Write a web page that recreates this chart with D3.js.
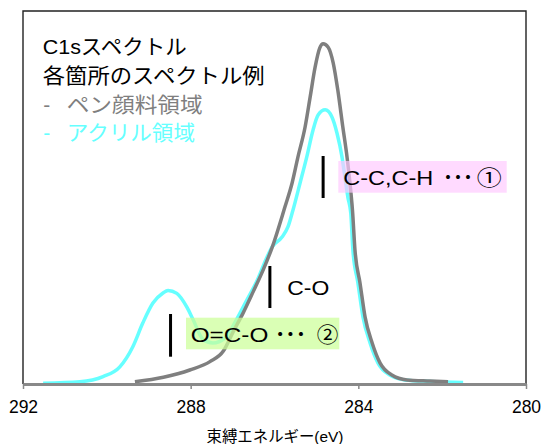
<!DOCTYPE html>
<html>
<head>
<meta charset="utf-8">
<script src="https://cdn.jsdelivr.net/npm/d3@7"></script>
<style>
  html, body { margin: 0; padding: 0; background: #fff; }
  svg { display: block; }
  text { font-family: "Liberation Sans", Arial, "Noto Sans CJK JP", sans-serif; }
</style>
</head>
<body>
<script>
// ---- data ----
const xTicks = [292, 288, 284, 280];
const titleLines = ["C1sスペクトル", "各箇所のスペクトル例"];
const seriesNames = ["ペン顔料領域", "アクリル領域"];
const axisTitle = "束縛エネルギー(eV)";

// pen pigment region (gray)
const penEnergy = [289.33, 288.65, 288.02, 287.54, 287.22, 286.99, 286.75, 286.51, 286.27, 286.06,
  285.75, 285.58, 285.44, 285.27, 285.15, 285.03, 284.92, 284.84, 284.72, 284.60, 284.49, 284.37,
  284.27, 284.20, 284.14, 284.08, 283.96, 283.84, 283.67, 283.48, 283.20, 282.84, 282.29, 281.86];
const penIntensity = [0.6, 1.8, 3.75, 6.0, 8.85, 13.9, 19.0, 24.7, 30.6, 36.5,
  47.5, 53.9, 60.9, 68.9, 76.9, 85.0, 90.1, 91.2, 90.3, 86.1, 78.8, 68.9,
  60.9, 53.9, 46.6, 35.9, 27.1, 18.0, 11.0, 5.6, 2.4, 1.1, 0.8, 0.6];

// acrylic region (cyan)
const acrEnergy = [291.52, 290.64, 290.09, 289.69, 289.38, 289.14, 288.90, 288.66, 288.54, 288.33,
  288.09, 287.94, 287.71, 287.47, 287.18, 286.94, 286.66, 286.42, 286.18, 286.06, 285.82, 285.68,
  285.56, 285.39, 285.23, 285.08, 284.96, 284.79, 284.63, 284.51, 284.39, 284.32, 284.25, 284.18,
  284.13, 284.01, 283.89, 283.72, 283.53, 283.25, 282.89, 282.29, 281.50];
const acrIntensity = [0.2, 0.6, 2.0, 4.6, 10.0, 16.4, 21.7, 24.4, 25.1, 24.3,
  20.6, 17.2, 12.0, 11.0, 12.3, 16.6, 22.5, 27.6, 34.0, 36.7, 39.4, 42.1,
  46.6, 53.9, 60.9, 68.1, 72.1, 73.5, 71.6, 67.3, 60.9, 55.5, 50.1, 45.8,
  35.9, 27.1, 18.0, 11.0, 5.6, 2.4, 1.1, 0.7, 0.4];

// peak assignments
const peakLabels = ["C-C,C-H", "C-O", "O=C-O"];
const peakEnergies = [284.84, 286.11, 288.48];

// ---- drawing ----
const W = 542, H = 444;
const svg = d3.select("body").append("svg").attr("width", W).attr("height", H);

const x = d3.scaleLinear().domain([292, 280]).range([23, 526]);
const y = d3.scaleLinear().domain([0, 100]).range([384, 11]);

const gray = "#7f7f7f", cyan = "#66ffff";

// frame (left, top, right)
svg.append("path")
  .attr("d", `M${x(292)},${y(0)} V${y(100)} H${x(280)} V${y(0)}`)
  .attr("fill", "none").attr("stroke", "#222").attr("stroke-width", 1.4);

const line = d3.line().x(d => x(d[0])).y(d => y(d[1])).curve(d3.curveMonotoneX);
const acr = acrEnergy.map((e, i) => [e, acrIntensity[i]]);
const pen = penEnergy.map((e, i) => [e, penIntensity[i]]);

svg.append("path").datum(acr).attr("d", line)
  .attr("fill", "none").attr("stroke", cyan).attr("stroke-width", 3.5).attr("stroke-linejoin", "round");
svg.append("path").datum(pen).attr("d", line)
  .attr("fill", "none").attr("stroke", gray).attr("stroke-width", 3.5).attr("stroke-linejoin", "round");

// axis
const ax = svg.append("g").attr("transform", `translate(0,${y(0)})`)
  .call(d3.axisBottom(x).tickValues(xTicks).tickFormat(d3.format("d"))
    .tickSize(5).tickSizeOuter(0).tickPadding(12));
ax.select(".domain").attr("stroke", "#898989").attr("stroke-width", 3);
ax.selectAll(".tick line").attr("stroke", "#898989").attr("stroke-width", 1.5);
ax.selectAll(".tick text").attr("font-size", 17.5).attr("fill", "#000")
  .style("font-family", '"Liberation Sans", Arial, sans-serif');

svg.append("text").attr("x", 275).attr("y", 442).attr("text-anchor", "middle")
  .attr("font-size", 15.5).attr("fill", "#000")
  .attr("textLength", 137).attr("lengthAdjust", "spacingAndGlyphs").text(axisTitle);

// title / legend text
const fs = 21;
svg.append("text").attr("x", 42.7).attr("y", 54.3).attr("font-size", fs)
  .attr("textLength", 144).attr("lengthAdjust", "spacingAndGlyphs").text(titleLines[0]);
svg.append("text").attr("x", 42.7).attr("y", 83).attr("font-size", fs)
  .attr("textLength", 222).attr("lengthAdjust", "spacingAndGlyphs").text(titleLines[1]);
const legCols = [gray, cyan], legY = [111.5, 140], legW = [136, 128.3];
seriesNames.forEach((n, i) => {
  svg.append("text").attr("x", 43.3).attr("y", legY[i]).attr("font-size", fs)
    .attr("fill", legCols[i]).text("-");
  svg.append("text").attr("x", 66.7).attr("y", legY[i]).attr("font-size", fs)
    .attr("fill", legCols[i]).attr("textLength", legW[i]).attr("lengthAdjust", "spacingAndGlyphs").text(n);
});

// annotations
function marker(e, y0, y1) {
  svg.append("line").attr("x1", x(e)).attr("x2", x(e)).attr("y1", y0).attr("y2", y1)
    .attr("stroke", "#000").attr("stroke-width", 3);
}
// (1) C-C,C-H
marker(peakEnergies[0], 156, 198);
svg.append("rect").attr("x", 338.3).attr("y", 161).attr("width", 168.4).attr("height", 31.7)
  .attr("fill", "#ffc8ff").attr("opacity", 0.68);
const t1 = svg.append("text").attr("y", 185).attr("font-size", fs).attr("fill", "#000");
t1.append("tspan").attr("x", 343.3).attr("textLength", 90).attr("lengthAdjust", "spacingAndGlyphs").text(peakLabels[0]);
t1.append("tspan").attr("x", 443).attr("textLength", 30).attr("lengthAdjust", "spacingAndGlyphs")
  .attr("font-weight", "bold").text("･･･");
t1.append("tspan").attr("x", 476.7).attr("textLength", 25).attr("lengthAdjust", "spacingAndGlyphs").text("①");

// C-O
marker(peakEnergies[1], 266, 308);
svg.append("text").attr("x", 287.3).attr("y", 295).attr("font-size", fs)
  .attr("textLength", 42).attr("lengthAdjust", "spacingAndGlyphs").text(peakLabels[1]);

// (2) O=C-O
marker(peakEnergies[2], 314, 356.7);
svg.append("rect").attr("x", 186).attr("y", 317.7).attr("width", 153.3).attr("height", 31.6)
  .attr("fill", "#ccff99").attr("opacity", 0.72);
const t2 = svg.append("text").attr("y", 341.7).attr("font-size", fs).attr("fill", "#000");
t2.append("tspan").attr("x", 190.7).attr("textLength", 77.6).attr("lengthAdjust", "spacingAndGlyphs").text(peakLabels[2]);
t2.append("tspan").attr("x", 275).attr("textLength", 31).attr("lengthAdjust", "spacingAndGlyphs")
  .attr("font-weight", "bold").text("･･･");
t2.append("tspan").attr("x", 316.7).attr("textLength", 21.6).attr("lengthAdjust", "spacingAndGlyphs").text("②");
</script>
</body>
</html>
